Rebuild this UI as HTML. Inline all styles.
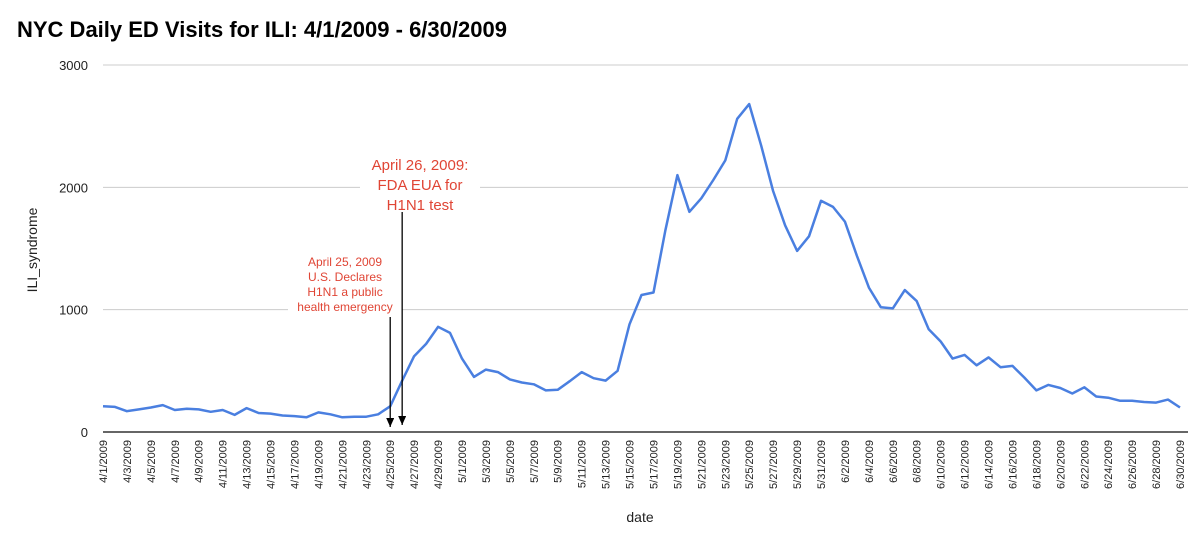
<!DOCTYPE html>
<html><head><meta charset="utf-8"><style>
body{margin:0;background:#fff;font-family:"Liberation Sans",Arial,sans-serif}
svg text{font-family:"Liberation Sans",Arial,sans-serif}
</style></head><body>
<svg id="c" width="1199" height="541" xmlns="http://www.w3.org/2000/svg">
<defs><marker id="ah" markerWidth="9" markerHeight="8" refX="9" refY="4" orient="auto" markerUnits="userSpaceOnUse"><path d="M0,0 L9,4 L0,8 z" fill="#000"/></marker></defs>
<text x="17" y="37" font-size="22" font-weight="bold" fill="#000">NYC Daily ED Visits for ILI: 4/1/2009 - 6/30/2009</text>
<g id="grid"></g>
<g id="xt"></g>
<path id="line" fill="none" stroke="#4a7fe0" stroke-width="2.5" stroke-linejoin="round"/>
<text transform="translate(37,250) rotate(-90)" text-anchor="middle" font-size="14" fill="#222">ILI_syndrome</text>
<text x="640" y="522" text-anchor="middle" font-size="14" fill="#222">date</text>
<g fill="#e04535" font-size="12" text-anchor="middle">
<rect x="288" y="250" width="114" height="63" fill="#fff"/>
<text x="345" y="266">April 25, 2009</text><text x="345" y="281">U.S. Declares</text><text x="345" y="296">H1N1 a public</text><text x="345" y="311">health emergency</text></g>
<g fill="#e04535" font-size="15" text-anchor="middle">
<rect x="360" y="150" width="120" height="62" fill="#fff"/>
<text x="420" y="170">April 26, 2009:</text><text x="420" y="190">FDA EUA for</text><text x="420" y="210">H1N1 test</text></g>
<line id="a1" stroke="#000" stroke-width="1.3" marker-end="url(#ah)"/>
<line id="a2" stroke="#000" stroke-width="1.3" marker-end="url(#ah)"/>
</svg>
<script>
const values=[210,205,170,185,200,220,180,190,185,165,180,140,195,155,150,135,130,120,160,145,120,125,125,145,210,420,620,720,860,810,
600,450,510,490,430,405,390,340,345,415,490,440,420,500,880,1120,1140,1650,2100,1800,1910,2060,2220,2560,2680,2340,1970,1690,1480,1600,1890,
1840,1720,1440,1180,1020,1010,1160,1070,840,740,600,630,545,610,530,540,445,340,385,360,315,365,290,280,255,255,245,240,265,200];
const yTicks=[0,1000,2000,3000];
const monthStarts=[{m:4,d:30},{m:5,d:31},{m:6,d:30}];
const annotationDays=[24,25];
const X0=103,X1=1180,Y0=432,Y3=65,NS="http://www.w3.org/2000/svg";
function xs(i){return X0+(X1-X0)*i/(values.length-1);}
function ys(v){return Y0-(Y0-Y3)*v/3000;}
const labels=[];monthStarts.forEach(o=>{for(let d=1;d<=o.d;d++)labels.push(o.m+"/"+d+"/2009");});
const g=document.getElementById('grid');
yTicks.forEach(t=>{
 const l=document.createElementNS(NS,'line');
 l.setAttribute('x1',X0);l.setAttribute('x2',X1+8);l.setAttribute('y1',ys(t));l.setAttribute('y2',ys(t));
 l.setAttribute('stroke',t===0?'#333':'#ccc');l.setAttribute('stroke-width',t===0?1.5:1);
 
 
 g.appendChild(l);
 const tx=document.createElementNS(NS,'text');
 tx.setAttribute('x',88);tx.setAttribute('y',ys(t)+5);tx.setAttribute('text-anchor','end');tx.setAttribute('font-size','13');tx.setAttribute('fill','#222');
 tx.textContent=t;
 
 
 g.appendChild(tx);
});
const xt=document.getElementById('xt');
labels.forEach((s,i)=>{if(i%2)return;
 const tx=document.createElementNS(NS,'text');
 const x=xs(i)+4;
 tx.setAttribute('transform','translate('+x+',440) rotate(-90)');tx.setAttribute('text-anchor','end');tx.setAttribute('font-size','11');tx.setAttribute('fill','#222');
 tx.textContent=s;
 
 
 xt.appendChild(tx);
});
document.getElementById('line').setAttribute('d',values.map((v,i)=>(i?'L':'M')+xs(i).toFixed(1)+','+ys(v).toFixed(1)).join(''));
const a1=document.getElementById('a1'),a2=document.getElementById('a2');
a1.setAttribute('x1',xs(annotationDays[0]));a1.setAttribute('x2',xs(annotationDays[0]));a1.setAttribute('y1',317);a1.setAttribute('y2',427);
a2.setAttribute('x1',xs(annotationDays[1]));a2.setAttribute('x2',xs(annotationDays[1]));a2.setAttribute('y1',212);a2.setAttribute('y2',425);
</script>
</body></html>
